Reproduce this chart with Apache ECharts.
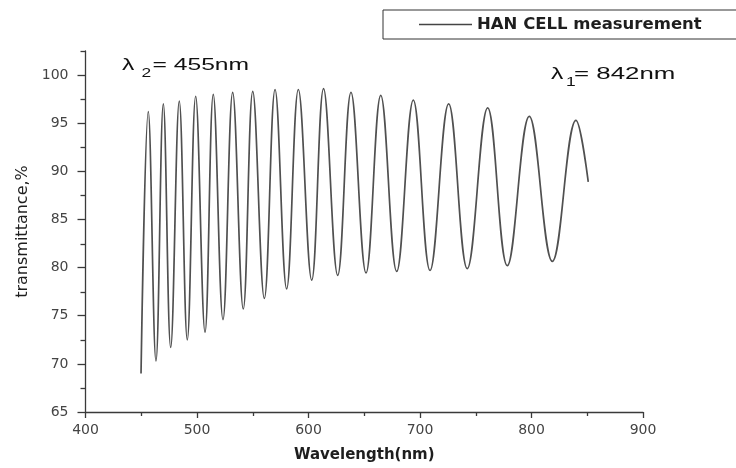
<!DOCTYPE html>
<html>
<head>
<meta charset="utf-8">
<script src="https://cdn.jsdelivr.net/npm/echarts@6/dist/echarts.min.js"></script>
<style>
  html, body { margin: 0; padding: 0; background: #ffffff; }
  #chart { width: 736px; height: 468px; }
</style>
</head>
<body>
<div id="chart"></div>
<script>
// Wavelength (nm) of the extrema (start, peaks/troughs, end)
var wavelength = [449.8, 456.3, 463.2, 469.8, 476.4, 484.1, 491.3, 498.8, 507.2, 514.6,
                  523.3, 532.0, 541.5, 550.0, 560.4, 570.0, 580.4, 590.9, 602.9, 613.5,
                  626.2, 638.1, 651.6, 664.8, 679.1, 694.0, 709.0, 725.7, 742.4, 760.7,
                  778.3, 798.0, 818.7, 839.9, 850.9];
// Transmittance (%) at those wavelengths
var transmittance = [69.0, 96.2, 70.3, 97.0, 71.7, 97.3, 72.5, 97.8, 73.3, 98.0,
                     74.6, 98.2, 75.7, 98.3, 76.8, 98.5, 77.8, 98.5, 78.7, 98.6,
                     79.2, 98.2, 79.45, 97.9, 79.6, 97.4, 79.7, 97.0, 79.9, 96.6,
                     80.2, 95.7, 80.65, 95.3, 88.9];
var seriesName = 'HAN CELL measurement';
var xTicks = [400, 500, 600, 700, 800, 900];
var yTicks = [65, 70, 75, 80, 85, 90, 95, 100];
var yMinorTicks = [67.5, 72.5, 77.5, 82.5, 87.5, 92.5, 97.5, 102.5];
var annotations = [
  { sym: 'λ', sub: '2', rest: '= 455nm' },
  { sym: 'λ', sub: '1', rest: '= 842nm' }
];

var points = wavelength.map(function (w, i) { return [w, transmittance[i]]; });

var axisColor = '#3a3a3a';
var labelColor = '#444';
var gridBox = { left: 85.5, right: 93, top: 51, bottom: 55.3 };

var chart = echarts.init(document.getElementById('chart'), null, { renderer: 'canvas' });

function annText(x, y, size, text, scaleX) {
  return {
    type: 'text', x: x, y: y, scaleX: scaleX, silent: true,
    style: { text: text, font: size + 'px "Liberation Sans", Arial, sans-serif',
             fill: '#111', verticalAlign: 'middle', align: 'left' }
  };
}

var option = {
  backgroundColor: '#ffffff',
  animation: false,
  grid: [
    Object.assign({}, gridBox),
    Object.assign({}, gridBox)
  ],
  legend: {
    data: [{ name: seriesName, icon: 'rect' }],
    left: 383, top: 10,
    padding: [6, 40, 6, 36],
    itemWidth: 53, itemHeight: 1.4,
    itemStyle: { color: '#444' },
    borderColor: '#333', borderWidth: 1, borderRadius: 0,
    textStyle: { fontFamily: '"DejaVu Sans", sans-serif', fontWeight: 'bold', fontSize: 16.5, color: '#1e1e1e' },
    selectedMode: false
  },
  xAxis: [
    {
      gridIndex: 0, type: 'value', min: xTicks[0], max: xTicks[xTicks.length - 1], interval: 100,
      name: 'Wavelength(nm)', nameLocation: 'middle', nameGap: 36,
      nameTextStyle: { fontFamily: '"DejaVu Sans", sans-serif', fontWeight: 'bold', fontSize: 15, color: '#1e1e1e' },
      axisLine: { show: true, lineStyle: { color: axisColor, width: 1.3 } },
      axisTick: { show: true, length: 6, lineStyle: { color: axisColor, width: 1.3 } },
      minorTick: { show: true, splitNumber: 2, length: 4, lineStyle: { color: axisColor, width: 1.3 } },
      axisLabel: { margin: 11, color: labelColor, fontFamily: '"DejaVu Sans", sans-serif', fontSize: 14 },
      splitLine: { show: false }, minorSplitLine: { show: false }
    },
    { gridIndex: 1, type: 'value', min: 400, max: 900, show: false }
  ],
  yAxis: [
    {
      gridIndex: 0, type: 'value', min: 65, max: 102.5,
      name: 'transmittance,%', nameLocation: 'middle', nameGap: 54,
      nameTextStyle: { fontFamily: '"DejaVu Sans", sans-serif', fontSize: 16, color: '#1e1e1e' },
      axisLine: { show: true, lineStyle: { color: axisColor, width: 1.3 } },
      axisTick: { show: true, length: 8, customValues: yTicks, lineStyle: { color: axisColor, width: 1.3 } },
      axisLabel: { margin: 17, customValues: yTicks, color: labelColor, fontFamily: '"DejaVu Sans", sans-serif', fontSize: 14 },
      splitLine: { show: false }
    },
    {
      gridIndex: 1, type: 'value', min: 65, max: 102.5, position: 'left',
      axisLine: { show: false },
      axisTick: { show: true, length: 5, customValues: yMinorTicks, lineStyle: { color: axisColor, width: 1.3 } },
      axisLabel: { show: false },
      splitLine: { show: false }
    }
  ],
  series: [
    {
      name: seriesName, type: 'line', xAxisIndex: 0, yAxisIndex: 0,
      data: points, showSymbol: false, symbol: 'none',
      smooth: 0.4,
      lineStyle: { color: '#505050', width: 1.7 },
      itemStyle: { color: '#505050' }
    }
  ],
  graphic: [
    annText(122, 65.7, 17, annotations[0].sym, 1.45),
    annText(141.5, 73.8, 12, annotations[0].sub, 1.45),
    annText(152.5, 65.7, 17, annotations[0].rest, 1.45),
    annText(551, 74.7, 17, annotations[1].sym, 1.45),
    annText(566, 82.8, 12, annotations[1].sub, 1.45),
    annText(574, 74.7, 17, annotations[1].rest, 1.52)
  ]
};

chart.setOption(option);
</script>
</body>
</html>
